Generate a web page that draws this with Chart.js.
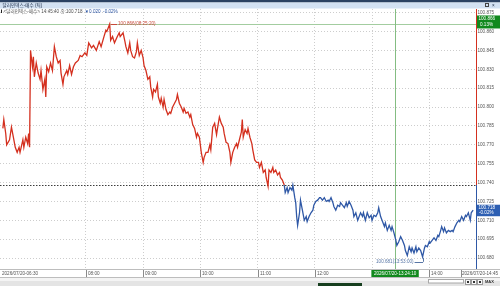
<!DOCTYPE html>
<html>
<head>
<meta charset="utf-8">
<script src="https://cdn.jsdelivr.net/npm/chart.js@4"></script>
<style>
  html, body { margin: 0; padding: 0; background: #fff; overflow: hidden; }
  #wrap { position: relative; width: 500px; height: 286px; }
</style>
</head>
<body>
<div id="wrap"><canvas id="c" width="500" height="286"></canvas></div>
<script>
// Dollar index (bid) tick chart, 2026/07/20.
// minutes = minutes after the session start (06:30), prices = traded price.
const sessionStart = '06:30';
const minutes = [
  3, 4, 6, 7, 10, 12, 14, 16, 18, 20,
  21, 24, 25, 27, 29, 30, 31, 32, 34, 35,
  36, 38, 40, 42, 43, 45, 47, 48, 49, 51,
  53, 55, 57, 59, 61, 63, 64, 66, 67, 70,
  71, 73, 75, 77, 79, 82, 84, 86, 89, 91,
  93, 96, 98, 101, 104, 106, 109, 111, 112, 115,
  116, 118, 120, 123, 125, 126, 129, 131, 132, 134,
  136, 137, 139, 141, 143, 144, 146, 148, 150, 151,
  153, 155, 157, 158, 160, 161, 163, 165, 166, 168,
  169, 171, 172, 174, 176, 178, 179, 181, 183, 185,
  186, 188, 190, 192, 193, 195, 197, 199, 200, 202,
  204, 206, 207, 209, 211, 213, 214, 216, 218, 220,
  221, 223, 225, 227, 228, 230, 232, 234, 235, 237,
  239, 241, 242, 244, 246, 248, 249, 251, 253, 254,
  255, 257, 259, 260, 262, 264, 265, 267, 269, 271,
  272, 274, 276, 278, 279, 281, 282, 284, 286, 287,
  289, 291, 293, 294, 296, 298, 299, 301, 302, 304,
  306, 307, 309, 310, 311, 312, 314, 315, 317, 319,
  321, 322, 324, 326, 328, 329, 331, 333, 335, 336,
  338, 340, 342, 344, 345, 347, 349, 350, 352, 354,
  356, 357, 359, 361, 363, 364, 366, 368, 370, 371,
  373, 375, 376, 378, 380, 381, 383, 385, 387, 389,
  390, 392, 394, 396, 397, 399, 401, 403, 404, 406,
  408, 410, 411, 413, 415, 416, 418, 420, 422, 424,
  425, 427, 429, 431, 432, 434, 436, 437, 439, 441,
  443, 445, 446, 448, 450, 451, 453, 455, 457, 459,
  460, 462, 463, 465, 466, 468, 470, 472, 474, 475,
  477, 479, 481, 482, 484, 486, 488, 489, 491, 493,
  494, 496
];
const prices = [
  100.783, 100.790, 100.779, 100.770, 100.774, 100.784, 100.776, 100.768, 100.764, 100.768,
  100.764, 100.774, 100.768, 100.776, 100.771, 100.779, 100.768, 100.845, 100.832, 100.840,
  100.824, 100.835, 100.827, 100.822, 100.829, 100.814, 100.822, 100.808, 100.832, 100.828,
  100.835, 100.829, 100.848, 100.840, 100.835, 100.837, 100.827, 100.818, 100.824, 100.829,
  100.826, 100.833, 100.826, 100.832, 100.835, 100.837, 100.841, 100.840, 100.843, 100.841,
  100.851, 100.847, 100.849, 100.845, 100.852, 100.848, 100.856, 100.861, 100.860, 100.866,
  100.853, 100.856, 100.851, 100.856, 100.859, 100.856, 100.859, 100.852, 100.848, 100.843,
  100.851, 100.845, 100.840, 100.839, 100.844, 100.851, 100.841, 100.845, 100.839, 100.833,
  100.829, 100.822, 100.824, 100.816, 100.808, 100.814, 100.812, 100.818, 100.808, 100.803,
  100.807, 100.800, 100.806, 100.798, 100.794, 100.796, 100.795, 100.800, 100.803, 100.806,
  100.810, 100.803, 100.800, 100.796, 100.799, 100.795, 100.796, 100.792, 100.794, 100.786,
  100.783, 100.776, 100.779, 100.776, 100.764, 100.756, 100.760, 100.764, 100.764, 100.770,
  100.766, 100.784, 100.787, 100.778, 100.783, 100.792, 100.787, 100.784, 100.779, 100.772,
  100.771, 100.764, 100.756, 100.764, 100.768, 100.771, 100.768, 100.774, 100.780, 100.790,
  100.776, 100.782, 100.779, 100.783, 100.776, 100.771, 100.766, 100.758, 100.756, 100.756,
  100.752, 100.756, 100.748, 100.750, 100.744, 100.737, 100.750, 100.748, 100.752, 100.748,
  100.750, 100.746, 100.748, 100.744, 100.742, 100.738, 100.732, 100.736, 100.732, 100.736,
  100.734, 100.738, 100.728, 100.724, 100.713, 100.706, 100.716, 100.726, 100.718, 100.710,
  100.713, 100.709, 100.713, 100.716, 100.718, 100.722, 100.725, 100.726, 100.728, 100.728,
  100.726, 100.728, 100.725, 100.726, 100.725, 100.728, 100.724, 100.721, 100.718, 100.722,
  100.721, 100.724, 100.722, 100.720, 100.724, 100.721, 100.725, 100.722, 100.718, 100.713,
  100.716, 100.710, 100.712, 100.716, 100.713, 100.716, 100.710, 100.716, 100.712, 100.714,
  100.710, 100.714, 100.713, 100.716, 100.720, 100.713, 100.709, 100.705, 100.708, 100.702,
  100.706, 100.702, 100.705, 100.700, 100.694, 100.690, 100.693, 100.697, 100.694, 100.690,
  100.686, 100.682, 100.689, 100.685, 100.688, 100.684, 100.689, 100.685, 100.688, 100.686,
  100.681, 100.688, 100.690, 100.689, 100.693, 100.692, 100.694, 100.696, 100.694, 100.698,
  100.697, 100.702, 100.705, 100.701, 100.704, 100.700, 100.702, 100.701, 100.702, 100.701,
  100.705, 100.708, 100.710, 100.709, 100.713, 100.710, 100.714, 100.713, 100.716, 100.710,
  100.716, 100.718
];

const prevClose = 100.738;      // dotted reference line
const lastTime = '14:45:40';
const highTime = '08:25:20';
const lowTime = '13:53:00';
const crossTime = '13:24:10';   // crosshair position
const crossPrice = 100.866;
const colorSwitchTime = '11:28'; // line turns blue after this

const yTicks = [100.680, 100.695, 100.710, 100.725, 100.740, 100.755, 100.770, 100.785,
                100.800, 100.815, 100.830, 100.845, 100.860, 100.875];
const xTickTimes = ['08:00', '09:00', '10:00', '11:00', '12:00', '13:00', '14:00'];
const firstLabel = '2026/07/20-06:30';
const lastLabel = '2026/07/20-14:45';
const titleText = '달러인덱스-매수 (틱)';

const RED = '#d4301f';
const BLUE = '#2f58a6';
const FONT = "'Liberation Sans', 'Noto Sans CJK KR', sans-serif";

function toMin(t) {
  const [h, m, s] = t.split(':').map(Number);
  const [sh, sm] = sessionStart.split(':').map(Number);
  return h * 60 + m + (s || 0) / 60 - (sh * 60 + sm);
}

function hline(ctx, x1, x2, y) { ctx.beginPath(); ctx.moveTo(x1, y); ctx.lineTo(x2, y); ctx.stroke(); }
function vline(ctx, x, y1, y2) { ctx.beginPath(); ctx.moveTo(x, y1); ctx.lineTo(x, y2); ctx.stroke(); }

const last = prices[prices.length - 1];
const high = Math.max(...prices);
const low = Math.min(...prices);
const pct = v => ((v - prevClose) / prevClose * 100).toFixed(2) + '%';
const switchMin = toMin(colorSwitchTime);

const overlay = {
  id: 'overlay',
  beforeDatasetsDraw(chart) {
    const { ctx, chartArea: a, scales: { x, y } } = chart;
    ctx.save();
    ctx.lineWidth = 1;
    ctx.strokeStyle = '#3c3c3c';
    ctx.setLineDash([1.5, 1.5]);
    hline(ctx, a.left, a.right, Math.round(y.getPixelForValue(prevClose)) + 0.5);
    ctx.setLineDash([]);
    ctx.strokeStyle = '#a3cda0';
    hline(ctx, a.left, a.right, Math.round(y.getPixelForValue(crossPrice)) + 0.5);
    ctx.strokeStyle = '#84bd82';
    vline(ctx, Math.round(x.getPixelForValue(toMin(crossTime))) + 0.5, a.top, a.bottom);
    ctx.restore();
  },
  afterDraw(chart) {
    const { ctx, chartArea: a, scales: { x, y }, width: W, height: H } = chart;
    ctx.save();
    ctx.lineWidth = 1;
    ctx.font = '4.6px ' + FONT;
    ctx.textBaseline = 'middle';

    // right axis line, red above previous close and blue below
    const yr = y.getPixelForValue(prevClose);
    ctx.strokeStyle = RED; vline(ctx, a.right + 0.5, a.top, yr);
    ctx.strokeStyle = BLUE; vline(ctx, a.right + 0.5, yr, a.bottom);

    // high / low annotations
    const hx = x.getPixelForValue(toMin(highTime)), hy = y.getPixelForValue(high);
    ctx.strokeStyle = '#c9483a'; ctx.fillStyle = '#c9483a'; ctx.textAlign = 'left';
    hline(ctx, hx + 1, hx + 7, Math.round(hy) + 0.5);
    ctx.fillText(high.toFixed(3) + '(' + highTime + ')', hx + 8, hy);
    const lx = x.getPixelForValue(toMin(lowTime)), ly = y.getPixelForValue(low);
    ctx.strokeStyle = '#5876a6'; ctx.fillStyle = '#5876a6'; ctx.textAlign = 'right';
    vline(ctx, Math.round(lx) + 0.5, ly + 1, ly + 5);
    hline(ctx, lx - 8, lx + 0.5, Math.round(ly + 5) + 0.5);
    ctx.fillText(low.toFixed(3) + '(' + lowTime + ')', lx - 9, ly + 5);

    // price boxes on the right axis
    const cy = y.getPixelForValue(crossPrice);
    ctx.fillStyle = '#11891d';
    ctx.fillRect(a.right + 1, cy - 8.5, W - a.right - 1, 13);
    ctx.fillStyle = '#fff'; ctx.textAlign = 'left';
    ctx.fillText(crossPrice.toFixed(3), a.right + 2.5, cy - 5);
    ctx.fillText(pct(crossPrice), a.right + 4, cy + 0.5);
    const ly2 = y.getPixelForValue(last);
    ctx.fillStyle = '#2d5fb3';
    ctx.fillRect(a.right + 1, ly2 - 5.5, W - a.right - 1, 11.5);
    ctx.fillStyle = '#fff';
    ctx.fillText(last.toFixed(3), a.right + 2.5, ly2 - 2.7);
    ctx.fillText(pct(last), a.right + 3, ly2 + 2.7);

    // x axis strip
    ctx.strokeStyle = '#bdbdbd';
    hline(ctx, 0, W, a.bottom + 0.5);
    hline(ctx, 0, W, 277.5);
    const ty = 273.6;
    ctx.fillStyle = '#555'; ctx.textAlign = 'left';
    ctx.fillText(firstLabel, 2, ty);
    xTickTimes.forEach(t => {
      const px = Math.round(x.getPixelForValue(toMin(t))) + 0.5;
      ctx.strokeStyle = '#8a8a8a'; vline(ctx, px, 270, 277);
      ctx.fillStyle = '#555'; ctx.fillText(t, px + 1.5, ty);
    });
    const lw = ctx.measureText(lastLabel).width;
    ctx.strokeStyle = '#8a8a8a'; vline(ctx, Math.round(W - 3 - lw) + 0.5, 270, 277);
    ctx.fillText(lastLabel, W - 2 - lw, ty);

    // crosshair time box
    const crossLabel = '2026/07/20-' + crossTime;
    const cw = ctx.measureText(crossLabel).width + 5;
    const cx = x.getPixelForValue(toMin(crossTime));
    ctx.fillStyle = '#11891d';
    ctx.fillRect(cx - cw / 2, 270, cw, 7);
    ctx.fillStyle = '#fff'; ctx.textAlign = 'center';
    ctx.fillText(crossLabel, cx, ty);

    // scroll bar
    ctx.fillStyle = '#e4e4e4'; ctx.fillRect(0, 278, W, H - 278);
    ctx.fillStyle = '#f4f4f4'; ctx.fillRect(0, 278, W, 3);
    ctx.fillStyle = '#173f1f'; ctx.fillRect(318, 283, 44, 3);
    ctx.fillStyle = '#fff'; ctx.strokeStyle = '#a8a8a8';
    ctx.fillRect(428, 279.5, 35, 3.5); ctx.strokeRect(428.5, 279.5, 35, 3.5);
    [465, 471, 477].forEach(bx => {
      ctx.fillStyle = '#f7f7f7'; ctx.fillRect(bx, 279, 5, 5);
      ctx.strokeStyle = '#9a9a9a'; ctx.strokeRect(bx + 0.5, 279.5, 5, 5);
      ctx.fillStyle = '#333'; ctx.fillRect(bx + 2, 281, 2, 2);
    });
    ctx.fillStyle = '#333'; ctx.textAlign = 'left';
    ctx.font = 'bold 4px ' + FONT;
    ctx.fillText('MAX', 485, 282);

    // header
    ctx.font = '4.6px ' + FONT;
    ctx.fillStyle = '#2b4262'; ctx.fillRect(0, 0, W, 2.5);
    ctx.fillStyle = '#d2e1f2'; ctx.fillRect(0, 2.5, W, 6);
    ctx.fillStyle = '#1c2c46'; ctx.textAlign = 'left';
    ctx.fillText(titleText, 2.5, 5.6);
    ctx.strokeStyle = '#444';
    ctx.strokeRect(485.5, 3.5, 3, 3);
    ctx.fillText('×', 492, 5.4);
    ctx.fillStyle = '#222'; ctx.fillRect(1, 9.5, 1, 3.5);
    const info = '<달러인덱스-매수> ' + lastTime + ' 종:' + last.toFixed(3);
    ctx.fillStyle = '#555';
    ctx.fillText(info, 3.5, 11.3);
    let ix = 3.5 + ctx.measureText(info).width + 2;
    ctx.fillStyle = BLUE;
    const chg = '▼' + (prevClose - last).toFixed(3) + '  ' + pct(last);
    ctx.fillText(chg, ix, 11.3);
    ctx.restore();
  }
};

new Chart(document.getElementById('c').getContext('2d'), {
  type: 'line',
  data: {
    datasets: [{
      data: minutes.map((m, i) => ({ x: m, y: prices[i] })),
      borderColor: RED,
      borderWidth: 1.3,
      pointRadius: 0,
      tension: 0,
      segment: {
        borderColor: c => (c.p1.parsed.x <= switchMin ? RED : BLUE)
      }
    }]
  },
  options: {
    responsive: false,
    animation: false,
    layout: { padding: { top: 9, left: 0, right: 0, bottom: 0 } },
    plugins: { legend: { display: false }, tooltip: { enabled: false } },
    scales: {
      x: {
        type: 'linear',
        min: 0,
        max: 499,
        afterFit: s => { s.height = 17; },
        afterBuildTicks: s => { s.ticks = xTickTimes.map(t => ({ value: toMin(t) })); },
        ticks: { display: false },
        grid: { color: '#cdcdcd', drawTicks: false, tickLength: 0 },
        border: { display: false, dash: [1, 2] }
      },
      y: {
        position: 'right',
        min: 100.6713,
        max: 100.8779,
        afterFit: s => { s.width = 24; },
        afterBuildTicks: s => { s.ticks = yTicks.map(v => ({ value: v })); },
        ticks: {
          color: '#555',
          padding: 1.5,
          font: { size: 4.6, family: FONT },
          callback: v => v.toFixed(3)
        },
        grid: { color: '#cdcdcd', drawTicks: false, tickLength: 0 },
        border: { display: false, dash: [1, 2] }
      }
    }
  },
  plugins: [overlay]
});
</script>
</body>
</html>
